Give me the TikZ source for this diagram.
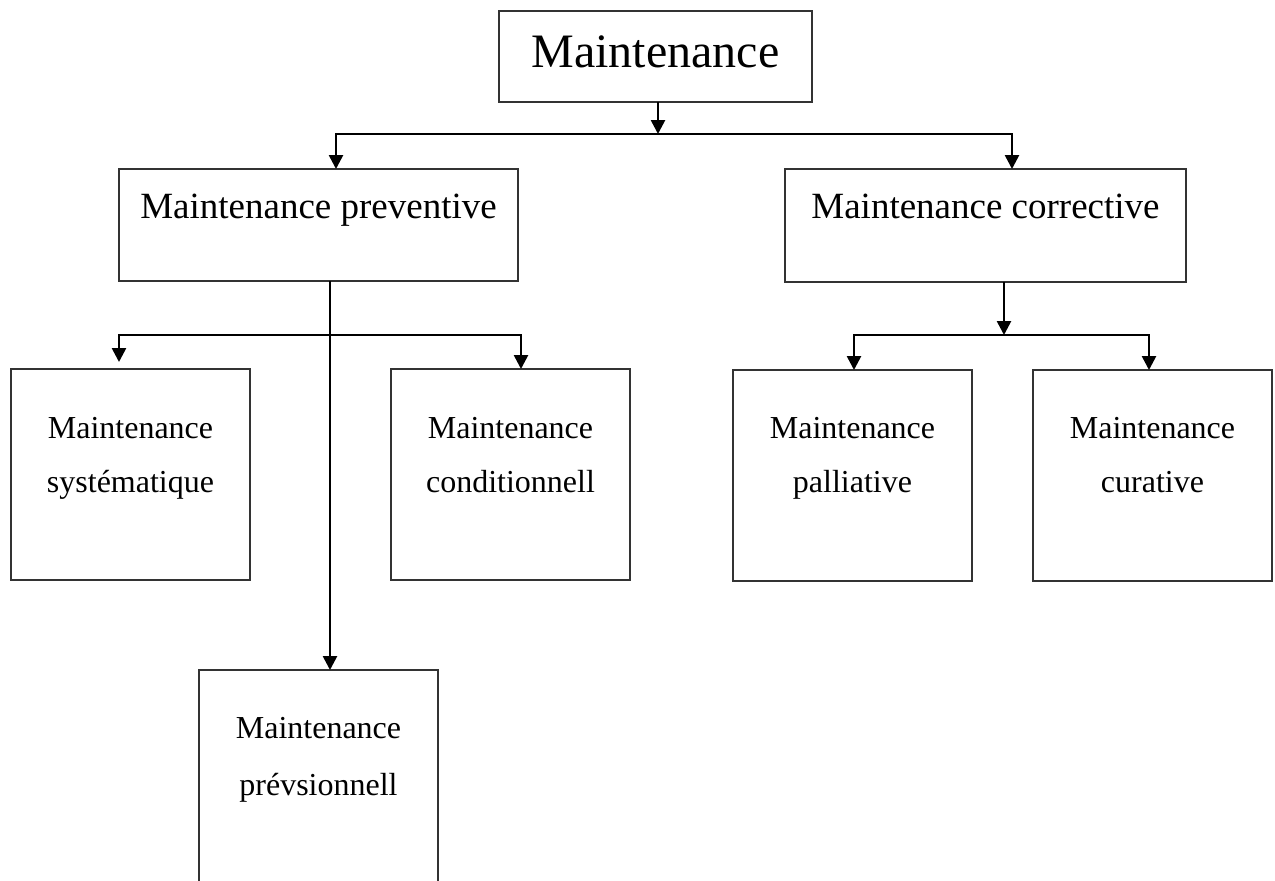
\documentclass[tikz,border=0pt]{standalone}
\usepackage{fontspec}
\setmainfont{Liberation Serif}
\usetikzlibrary{arrows.meta}
% text block of a box: width, height, first baseline, lines
\newcommand{\cell}[4]{\parbox[c][#2][t]{#1}{\centering\rule{0pt}{#3}#4}}
\tikzset{
  box/.style={draw=black!80, line width=1.3pt, inner sep=0pt, outer sep=0pt},
  small/.style={box, font=\fontsize{16}{27}\selectfont},
  link/.style={line width=1.3pt},
  arr/.style={link, -{Triangle[length=7pt,width=7pt]}},
}

\begin{document}
\begin{tikzpicture}[x=0.5pt,y=-0.5pt]
\useasboundingbox (0,0) rectangle (1275,880);
\clip (0,0) rectangle (1275,880);

% top
\node[box, font=\fontsize{24}{28}\selectfont] (main) at (655.5,56.5)
  {\cell{156.5pt}{45.5pt}{28pt}{Maintenance}};

% second level
\node[box, font=\fontsize{18.5}{22}\selectfont] (prvt) at (318.5,225)
  {\cell{199.5pt}{56pt}{24.5pt}{Maintenance preventive}};
\node[box, font=\fontsize{18.5}{22}\selectfont] (corr) at (985.5,225.5)
  {\cell{200.5pt}{56.5pt}{24.5pt}{Maintenance corrective}};

% third level
\node[small] (syst) at (130.5,474.5)
  {\cell{119.5pt}{105.5pt}{34.5pt}{Maintenance\\systématique}};
\node[small] (cond) at (510.5,474.5)
  {\cell{119.5pt}{105.5pt}{34.5pt}{Maintenance\\conditionnell}};
\node[small, font=\fontsize{16}{28.5}\selectfont] (prev) at (318.5,780)
  {\cell{119.5pt}{110pt}{34pt}{Maintenance\\prévsionnell}};
\node[small] (pall) at (852.5,475.5)
  {\cell{119.5pt}{105.5pt}{34pt}{Maintenance\\palliative}};
\node[small] (cur) at (1152.5,475.5)
  {\cell{119.5pt}{105.5pt}{34pt}{Maintenance\\curative}};

% junctions
\coordinate (busT) at (658,134);
\coordinate (busL) at (336,134);
\coordinate (busR) at (1012,134);
\coordinate (prvtT) at (330,335);
\coordinate (prvtL) at (119,335);
\coordinate (prvtR) at (521,335);
\coordinate (corrT) at (1004,335);
\coordinate (corrL) at (854,335);
\coordinate (corrR) at (1149,335);

% connectors
\draw[arr] (main.south -| busT) -- (busT);
\draw[arr] (busT) -- (busL) -- (busL |- prvt.north);
\draw[arr] (busT) -- (busR) -- (busR |- corr.north);

\draw[arr] (prvtT |- prvt.south) -- (prvtT |- prev.north);
\draw[arr, shorten >=3.5pt] (prvtT) -- (prvtL) -- (prvtL |- syst.north);
\draw[arr] (prvtT) -- (prvtR) -- (prvtR |- cond.north);

\draw[arr] (corrT |- corr.south) -- (corrT);
\draw[arr] (corrT) -- (corrL) -- (corrL |- pall.north);
\draw[arr] (corrT) -- (corrR) -- (corrR |- cur.north);
\end{tikzpicture}
\end{document}
